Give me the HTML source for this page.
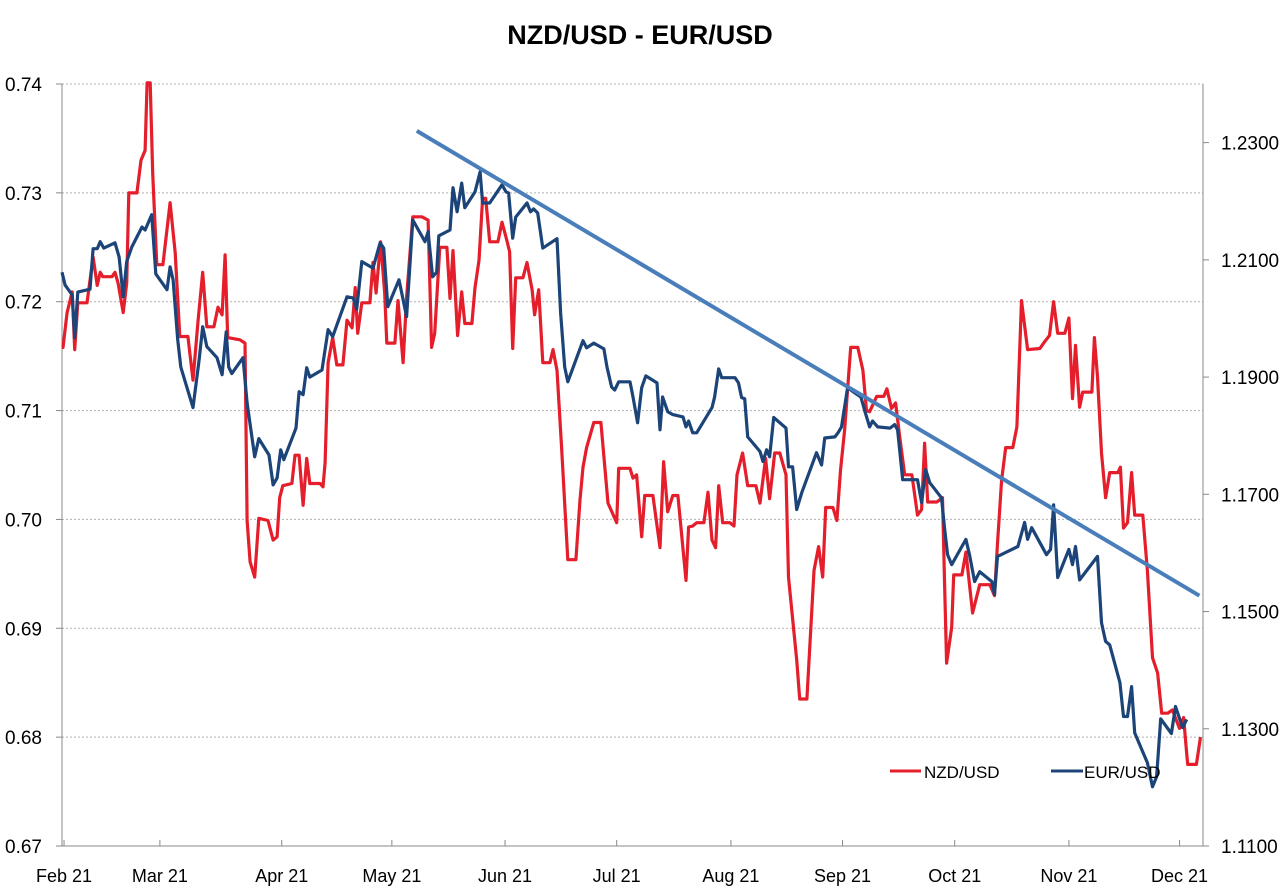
<!DOCTYPE html>
<html><head><meta charset="utf-8"><style>
html,body{margin:0;padding:0;background:#fff;}
svg{display:block;font-family:"Liberation Sans",Arial,sans-serif;}
</style></head><body>
<svg id="chart" width="1280" height="896" viewBox="0 0 1280 896">
<text x="640" y="44" text-anchor="middle" font-size="27" font-weight="bold" fill="#000">NZD/USD - EUR/USD</text>
<g id="grid"></g><g id="axes"></g><g id="series"></g>
<g>
<line x1="890" y1="771" x2="921" y2="771" stroke="#e41e2b" stroke-width="3"/>
<text x="924" y="778" font-size="17">NZD/USD</text>
<line x1="1051" y1="771" x2="1083" y2="771" stroke="#1c4478" stroke-width="3"/>
<text x="1084" y="778" font-size="17">EUR/USD</text>
</g>
</svg>
<script>
const monthLabels=["Feb 21","Mar 21","Apr 21","May 21","Jun 21","Jul 21","Aug 21","Sep 21","Oct 21","Nov 21","Dec 21"];
const monthDays=[0.4,19.2,43.1,64.7,86.9,108.8,131.2,153.1,175.1,197.5,219.2];
const leftTicks=[0.67,0.68,0.69,0.70,0.71,0.72,0.73,0.74];
const rightTicks=[1.11,1.13,1.15,1.17,1.19,1.21,1.23];
const nzdDays=[0,0.2,1,2,2.5,3.1,4.9,6.1,6.9,7.5,8,9.8,10.4,11,12,12.7,13.1,14.7,15.5,16.3,16.7,17.3,17.8,18.6,19.8,21.2,22.2,23.1,24.7,25.7,26.7,27.6,28.4,29.8,30.6,31.4,32,32.5,34.9,35.9,36.3,36.9,37.8,38.6,40.4,41.4,42.2,42.7,43.3,45.1,45.7,46.5,47.3,48,48.6,50.6,51.2,51.6,52.2,53.1,53.9,55.1,55.9,56.9,57.5,58,58.8,60.4,61,61.6,62.5,63.3,63.7,65.3,65.9,66.9,67.6,68.8,70.6,71.8,72.5,73.1,74.1,75.5,76.1,76.7,77.6,78.4,79,80.4,81,81.8,82.5,83.1,83.9,85.5,86.3,87.1,87.8,88.4,89,90.4,91.2,92.2,92.7,93.5,94.3,95.7,96.3,97.1,98,99.2,100.8,101.6,102.2,102.9,104.3,105.7,107.1,108.8,109.2,111.4,112,112.7,113.7,114.3,115.9,117.3,118,118.8,119.8,120.8,122.4,122.9,123.7,124.5,125.9,126.7,127.5,128.2,128.8,129.6,131,131.8,132.4,133.5,134.5,136.1,136.9,138,138.8,139.8,140.8,142,142.5,144.1,144.7,146.1,147.5,148.4,149.2,149.8,151.2,152,152.7,153.5,154.7,156.1,157.1,157.8,158.4,159.8,161.2,161.8,162.7,163.5,164.3,165.3,166.7,167.8,168.6,169.2,169.8,171.6,172.7,173.1,173.5,174.5,174.9,176.5,177.3,178,178.6,180,182,182.9,183.5,184.3,185.1,186.5,187.3,188.2,189.4,191.8,192.7,193.7,194.5,195.3,196.7,197.5,198.2,198.8,199.6,200.2,202,202.5,203.1,203.9,204.7,205.5,207.1,207.6,208.2,209,209.8,210.4,212,212.9,213.9,214.9,215.7,216.9,217.8,219.2,220,220.6,220.8,222.5,223.3];
const nzdValues=[0.7158,0.7158,0.7190,0.7209,0.7156,0.7199,0.7199,0.7241,0.7215,0.7227,0.7223,0.7223,0.7227,0.7217,0.7190,0.7217,0.7300,0.7300,0.7330,0.7339,0.7401,0.7401,0.7318,0.7234,0.7234,0.7291,0.7245,0.7168,0.7168,0.7128,0.7183,0.7227,0.7177,0.7177,0.7195,0.7188,0.7243,0.7167,0.7165,0.7162,0.6999,0.6961,0.6947,0.7001,0.6999,0.6981,0.6984,0.7020,0.7031,0.7033,0.7059,0.7059,0.7013,0.7056,0.7033,0.7033,0.7030,0.7052,0.7144,0.7167,0.7142,0.7142,0.7183,0.7176,0.7213,0.7171,0.7199,0.7199,0.7236,0.7208,0.7255,0.7208,0.7162,0.7162,0.7201,0.7144,0.7204,0.7278,0.7278,0.7275,0.7158,0.7171,0.7250,0.7250,0.7203,0.7247,0.7169,0.7209,0.7180,0.7180,0.7213,0.7238,0.7295,0.7295,0.7255,0.7255,0.7273,0.7259,0.7246,0.7157,0.7222,0.7222,0.7236,0.7211,0.7188,0.7211,0.7144,0.7144,0.7156,0.7137,0.7066,0.6963,0.6963,0.7018,0.7048,0.7066,0.7089,0.7089,0.7015,0.6997,0.7047,0.7047,0.7038,0.7041,0.6984,0.7022,0.7022,0.6974,0.7053,0.7007,0.7022,0.7022,0.6944,0.6993,0.6994,0.6997,0.6997,0.7025,0.6981,0.6974,0.7031,0.6997,0.6997,0.6994,0.7041,0.7061,0.7031,0.7031,0.7015,0.7056,0.7019,0.7061,0.7061,0.7041,0.6947,0.6871,0.6835,0.6835,0.6953,0.6975,0.6947,0.7011,0.7011,0.6999,0.7045,0.7082,0.7158,0.7158,0.7137,0.7100,0.7099,0.7113,0.7113,0.7120,0.7102,0.7107,0.7076,0.7041,0.7041,0.7004,0.7009,0.7070,0.7016,0.7016,0.7020,0.6944,0.6868,0.6901,0.6949,0.6949,0.6970,0.6940,0.6914,0.6940,0.6940,0.6930,0.6978,0.7036,0.7066,0.7066,0.7085,0.7201,0.7156,0.7157,0.7163,0.7169,0.7200,0.7171,0.7171,0.7185,0.7111,0.7160,0.7103,0.7117,0.7117,0.7167,0.7131,0.7061,0.7020,0.7043,0.7043,0.7048,0.6992,0.6997,0.7043,0.7004,0.7004,0.6953,0.6873,0.6859,0.6822,0.6822,0.6825,0.6808,0.6818,0.6785,0.6775,0.6775,0.6800];
const eurDays=[0,0.6,2,2.5,3.1,5.5,6.1,6.9,7.5,8.2,10.4,11.2,12,12.7,13.7,15.7,16.3,17.6,18.4,20.6,21.2,21.8,22.7,23.3,25.7,26.9,27.6,28.4,30.4,31.4,32.2,32.7,33.3,35.5,36.3,37.8,38.6,40.6,41.4,42.2,42.9,43.5,45.9,46.5,47.3,48,48.6,51,52.2,53.1,55.9,57.1,57.8,58.8,61,62.4,63.1,63.9,66.1,67.6,68.8,71.2,71.8,72.7,73.5,73.9,76.1,76.7,77.5,78.4,79,81,82,82.5,83.9,86.3,87.1,87.6,88.4,89,91.2,91.9,92.5,93.3,94.3,97.1,97.8,98.6,99.2,102.2,102.9,104.3,106.3,106.9,107.8,108.4,109.2,111.4,112,112.9,113.7,114.5,116.7,117.3,117.8,118.8,119.8,121.8,122.4,122.9,123.7,124.5,127.5,128,128.8,129.4,132,132.7,133.3,133.9,134.5,136.9,137.5,138.2,138.8,139.6,142,142.5,143.3,144.1,145.1,148,149,149.6,151.6,152.2,152.9,154.1,155.5,156.7,157.5,158.4,159,160,162.4,163.3,163.9,164.9,167.8,168.6,169.4,170.2,172.5,173.1,173.7,174.5,177.3,178,179,180,182.4,182.9,183.5,184.9,187.5,188.8,189.4,190.2,193.1,193.9,194.5,195.3,197.5,198.2,198.8,199.6,203.1,203.9,204.7,205.5,207.5,208.2,209,209.8,210.4,212.9,213.9,214.7,215.5,217.6,218.4,219.8,220.6];
const eurValues=[1.2079,1.2057,1.2040,1.1967,1.2045,1.2050,1.2119,1.2119,1.2131,1.2120,1.2129,1.2105,1.2037,1.2097,1.2122,1.2156,1.2151,1.2177,1.2076,1.2049,1.2088,1.2066,1.1964,1.1917,1.1848,1.1929,1.1986,1.1952,1.1933,1.1904,1.1977,1.1917,1.1906,1.1933,1.1856,1.1764,1.1795,1.1767,1.1716,1.1728,1.1776,1.1759,1.1813,1.1875,1.1870,1.1916,1.1900,1.1912,1.1981,1.1969,1.2037,1.2035,1.2016,1.2097,1.2086,1.2129,1.2120,1.2020,1.2066,1.2003,1.2168,1.2131,1.2148,1.2071,1.2079,1.2141,1.2151,1.2223,1.2182,1.2231,1.2189,1.2216,1.2250,1.2197,1.2197,1.2228,1.2216,1.2214,1.2137,1.2173,1.2197,1.2182,1.2187,1.2180,1.2120,1.2136,1.2010,1.1917,1.1892,1.1962,1.1950,1.1958,1.1948,1.1917,1.1883,1.1878,1.1892,1.1892,1.1866,1.1822,1.1882,1.1902,1.1890,1.1810,1.1866,1.1841,1.1836,1.1832,1.1815,1.1825,1.1805,1.1805,1.1848,1.1866,1.1914,1.1899,1.1899,1.1890,1.1865,1.1863,1.1798,1.1773,1.1756,1.1776,1.1764,1.1831,1.1813,1.1747,1.1747,1.1674,1.1703,1.1771,1.1750,1.1796,1.1798,1.1805,1.1815,1.1882,1.1873,1.1866,1.1841,1.1815,1.1825,1.1815,1.1813,1.1819,1.1810,1.1725,1.1725,1.1686,1.1742,1.1720,1.1694,1.1643,1.1597,1.1580,1.1623,1.1597,1.1551,1.1568,1.1551,1.1529,1.1594,1.1600,1.1611,1.1652,1.1623,1.1643,1.1597,1.1606,1.1682,1.1558,1.1606,1.1580,1.1611,1.1554,1.1594,1.1481,1.1449,1.1443,1.1379,1.1321,1.1321,1.1372,1.1293,1.1242,1.1201,1.1218,1.1317,1.1292,1.1338,1.1302,1.1316];
const trendDays=[69.6,223.1];
const trendValues=[1.2320,1.1527];

const NS="http://www.w3.org/2000/svg";
const L=62,R=1203,T=84,B=846,D0=0,D1=223.8;
function xs(d){return L+(d-D0)/(D1-D0)*(R-L);}
function yl(v){return B-(v-0.67)/(0.74-0.67)*(B-T);}
function yr(v){return B-(v-1.11)/(1.24-1.11)*(B-T);}
function mk(tag,attrs,parent){const e=document.createElementNS(NS,tag);for(const k in attrs)e.setAttribute(k,attrs[k]);parent.appendChild(e);return e;}
const grid=document.getElementById('grid'),axes=document.getElementById('axes'),series=document.getElementById('series');
leftTicks.forEach(v=>{
  const y=yl(v);
  if(v>0.675){const g=mk('line',{x1:L,x2:R,y1:y,y2:y,stroke:'#b0b0b0','stroke-width':1,'stroke-dasharray':'2,2'},grid);
  
  }
  const tk=mk('line',{x1:L-6,x2:L,y1:y,y2:y,stroke:'#888'},axes);
  
  
  const t=mk('text',{x:42,y:y+7,'text-anchor':'end','font-size':19},axes);t.textContent=v.toFixed(2);
  
  
});
rightTicks.forEach(v=>{
  const y=yr(v);
  const tk=mk('line',{x1:R,x2:R+6,y1:y,y2:y,stroke:'#888'},axes);
  
  
  const t=mk('text',{x:1221,y:y+7,'font-size':19},axes);t.textContent=v.toFixed(4);
  
  
});
[['left-axis',L,T,L,B],['right-axis',R,T,R,B],['x-axis',L,B,R,B]].forEach(a=>{
  const ln=mk('line',{x1:a[1],y1:a[2],x2:a[3],y2:a[4],stroke:'#888','stroke-width':1},axes);
  
  
});
monthLabels.forEach((m,i)=>{
  const x=xs(monthDays[i]);
  const tk=mk('line',{x1:x,x2:x,y1:B-6,y2:B,stroke:'#888'},axes);
  
  
  const t=mk('text',{x:x,y:882,'text-anchor':'middle','font-size':18},axes);t.textContent=m;
  
  
});
function path(days,vals,sc){return days.map((d,i)=>(i?'L':'M')+xs(d).toFixed(1)+','+sc(vals[i]).toFixed(1)).join(' ');}
const pn=mk('path',{d:path(nzdDays,nzdValues,yl),fill:'none',stroke:'#e41e2b','stroke-width':3.2,'stroke-linejoin':'round'},series);


const pe=mk('path',{d:path(eurDays,eurValues,yr),fill:'none',stroke:'#1c4478','stroke-width':3.2,'stroke-linejoin':'round'},series);


const pt=mk('path',{d:path(trendDays,trendValues,yr),fill:'none',stroke:'#4a7ebb','stroke-width':4},series);


</script>
</body></html>
